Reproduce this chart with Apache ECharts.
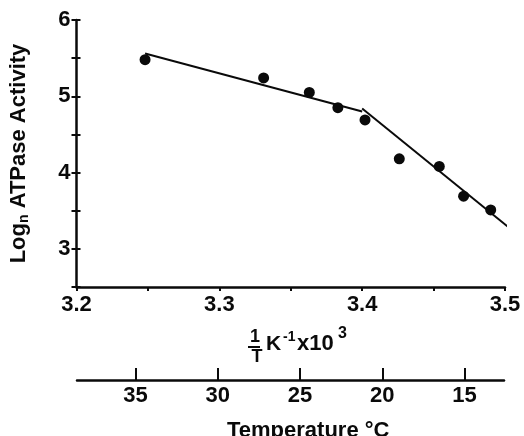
<!DOCTYPE html>
<html>
<head>
<meta charset="utf-8">
<script src="https://cdn.jsdelivr.net/npm/echarts@6/dist/echarts.min.js"></script>
<style>
  html, body { margin: 0; padding: 0; background: #fff; }
  #chart { width: 524px; height: 436px; }
</style>
</head>
<body>
<div id="chart"></div>
<script>
// measured points: 1/T (K^-1 x10^3) vs ln ATPase activity
const invT = [3.248, 3.331, 3.363, 3.383, 3.402, 3.426, 3.454, 3.471, 3.490];
const logAct = [5.48, 5.24, 5.05, 4.85, 4.69, 4.18, 4.08, 3.69, 3.51];

// fitted lines (two segments, break near 3.4)
const fitUpperX = [3.248, 3.400];
const fitUpperY = [5.56, 4.80];
const fitLowerX = [3.400, 3.502];
const fitLowerY = [4.84, 3.29];

// temperature scale ticks (°C)
const tempTicks = [15, 20, 25, 30, 35];

const font = '"Liberation Sans", Arial, Helvetica, sans-serif';
const ink = '#0a0a0a';

const chart = echarts.init(document.getElementById('chart'));

const pairs = (xs, ys) => xs.map((x, i) => [x, ys[i]]);

const axisLine = { show: true, lineStyle: { color: ink, width: 2.5 } };
const labelFont = { color: ink, fontFamily: font, fontWeight: 'bold', fontSize: 22 };

const option = {
  animation: false,
  backgroundColor: '#fff',
  grid: [
    { left: 75, right: 19, top: 20, bottom: 149 },
    { left: 77, right: 20, top: 370, height: 10 } // temperature scale
  ],
  xAxis: [
    {
      type: 'value',
      gridIndex: 0,
      min: 3.2,
      max: 3.5,
      interval: 0.05,
      axisLine: axisLine,
      axisTick: { show: true, inside: false, length: 4, lineStyle: { color: ink, width: 2 } },
      axisLabel: Object.assign({
        margin: 7,
        formatter: v => Math.abs(v * 10 - Math.round(v * 10)) < 1e-6 ? v.toFixed(1) : ''
      }, labelFont),
      splitLine: { show: false }
    },
    {
      type: 'value',
      gridIndex: 1,
      position: 'bottom',
      min: 12.6,
      max: 38.56,
      inverse: true,
      axisLine: axisLine,
      axisTick: { show: true, inside: true, length: 12, customValues: tempTicks, lineStyle: { color: ink, width: 2 } },
      axisLabel: Object.assign({ margin: 5, customValues: tempTicks }, labelFont),
      splitLine: { show: false }
    }
  ],
  yAxis: [
    {
      type: 'value',
      gridIndex: 0,
      min: 2.5,
      max: 6,
      interval: 0.5,
      name: 'Log{sub|n} ATPase Activity',
      nameLocation: 'middle',
      nameRotate: 90,
      nameGap: 45,
      nameTextStyle: Object.assign({
        rich: {
          sub: { fontFamily: font, fontWeight: 'bold', fontSize: 14, color: ink, padding: [11, 0, 0, 0] }
        }
      }, labelFont),
      axisLine: axisLine,
      axisTick: { show: true, inside: false, length: 5, lineStyle: { color: ink, width: 2 } },
      axisLabel: Object.assign({
        margin: 6,
        formatter: v => Number.isInteger(v) && v >= 3 ? String(v) : ''
      }, labelFont),
      splitLine: { show: false }
    },
    {
      // same axis again, ticks drawn inward so they cross the line
      type: 'value',
      gridIndex: 0,
      position: 'left',
      min: 2.5,
      max: 6,
      interval: 0.5,
      axisLine: { show: false },
      axisTick: { show: true, inside: true, length: 4, lineStyle: { color: ink, width: 2 } },
      axisLabel: { show: false },
      splitLine: { show: false }
    },
    { type: 'value', gridIndex: 1, show: false }
  ],
  graphic: [
    // x-axis title: 1/T K^-1 x10^3
    { type: 'text', x: 255, y: 328, style: { text: '1', font: 'bold 18px ' + font, fill: ink, align: 'center' } },
    { type: 'rect', left: 248, top: 346, shape: { width: 12, height: 2 }, style: { fill: ink } },
    { type: 'text', x: 257, y: 348, style: { text: 'T', font: 'bold 18px ' + font, fill: ink, align: 'center' } },
    { type: 'text', left: 266, top: 334, style: { text: 'K', font: 'bold 21px ' + font, fill: ink } },
    { type: 'text', left: 283, top: 330, style: { text: '-1', font: 'bold 14px ' + font, fill: ink } },
    { type: 'text', left: 297, top: 333, style: { text: 'x10', font: 'bold 22px ' + font, fill: ink } },
    { type: 'text', left: 338, top: 326, style: { text: '3', font: 'bold 16px ' + font, fill: ink } },
    // temperature scale title
    { type: 'text', left: 227, top: 420, style: { text: 'Temperature °C', font: 'bold 22px ' + font, fill: ink } }
  ],
  series: [
    {
      type: 'scatter',
      xAxisIndex: 0,
      yAxisIndex: 0,
      symbol: 'circle',
      symbolSize: 11,
      itemStyle: { color: ink, opacity: 1 },
      data: pairs(invT, logAct)
    },
    {
      type: 'line',
      xAxisIndex: 0,
      yAxisIndex: 0,
      symbol: 'none',
      lineStyle: { color: ink, width: 2 },
      data: pairs(fitUpperX, fitUpperY)
    },
    {
      type: 'line',
      xAxisIndex: 0,
      yAxisIndex: 0,
      symbol: 'none',
      lineStyle: { color: ink, width: 2 },
      data: pairs(fitLowerX, fitLowerY)
    }
  ]
};

chart.setOption(option);
window.addEventListener('resize', chart.resize);
</script>
</body>
</html>
